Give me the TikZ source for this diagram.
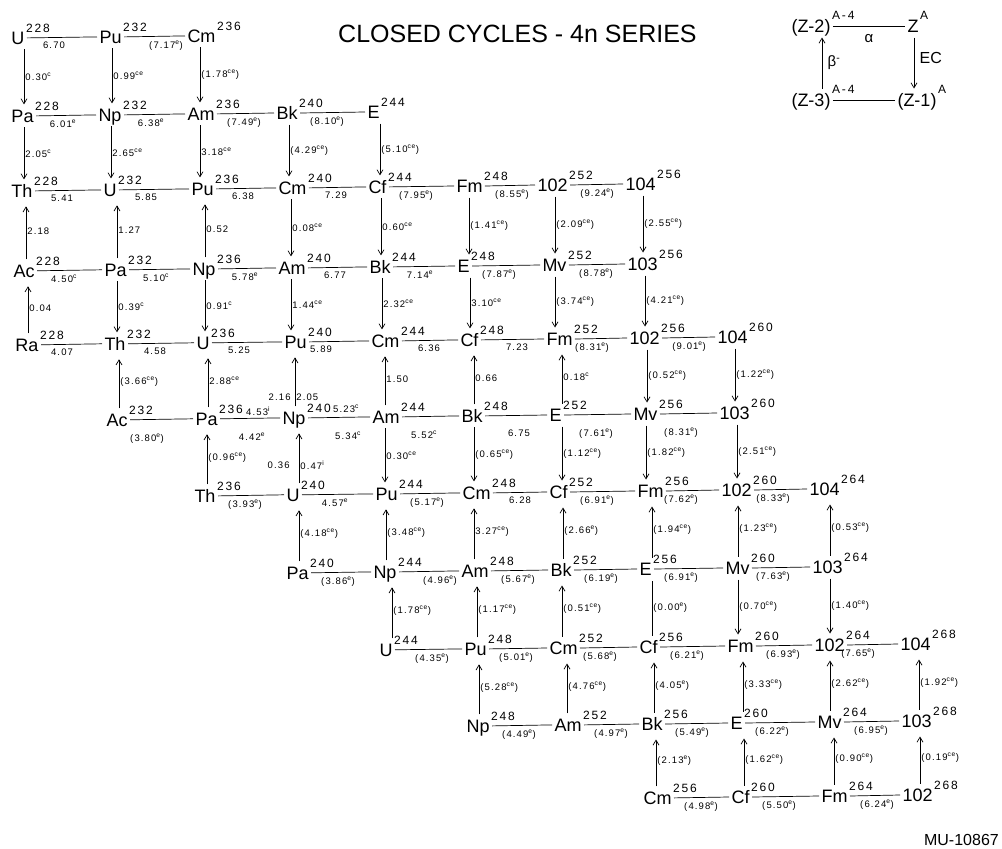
\documentclass[tikz,border=0pt]{standalone}
\usepackage{fontspec}
\setmainfont{Liberation Sans}
\newfontfamily\elfont{Liberation Sans}
\newfontfamily\supfont[LetterSpace=15]{Liberation Sans}
\newfontfamily\labfont[LetterSpace=12]{Liberation Sans}
\usetikzlibrary{arrows.meta}
\newcommand\sE{\textsuperscript{e}}
\newcommand\sC{\textsuperscript{c}}
\newcommand\sCE{\textsuperscript{ce}}
\newcommand\sI{\textsuperscript{i}}
\tikzset{
  el/.style={anchor=west, xshift=-3pt, inner sep=0pt, outer xsep=2.5pt, outer ysep=5pt,
    text height=13pt, text depth=0pt, font=\elfont\fontsize{18}{18}\selectfont},
  ms/.style={anchor=base west, inner sep=0pt, text depth=0pt, font=\supfont\fontsize{12}{12}\selectfont},
  lab/.style={inner sep=1pt, font=\labfont\fontsize{9.5}{10}\selectfont},
  ln/.style={line width=0.7pt},
  arr/.style={line width=0.7pt, -{Straight Barb[length=5pt,width=6pt]}},
}
\newcommand\Nuc[4]{%
  \node[el] (#1) at (#2) {#3};
  \node[ms] (#1s) at ([xshift=-1pt,yshift=12pt]#1.base east) {#4};}
\newcommand\HL[4][]{%
  \draw[ln] (#2.east) -- (#3.west);
  \node[lab, anchor=north, #1] (#2#3) at ([xshift=16pt,yshift=-8pt]#2s.south) {#4};}
\newcommand\VD[4][15pt]{%
  \path ([xshift=#1]#2.south west) coordinate (#2#3c);
  \draw[arr] (#2#3c) -- (#2#3c |- #3.north) node[lab, midway, right] (#2#3l) {#4};}
\newcommand\VU[4][15pt]{%
  \path ([xshift=#1]#2.north west) coordinate (#2#3c);
  \draw[arr, shorten >=4pt] (#2#3c) -- (#2#3c |- #3.south) node[lab, midway, right] (#2#3l) {#4};}
\begin{document}
\begin{tikzpicture}[x=1pt,y=-1pt]
\useasboundingbox (0,0) rectangle (1002,849);
% title and id
\node[anchor=base west, inner sep=0pt, font=\fontsize{25}{25}\selectfont] (title) at (338,42) {CLOSED CYCLES - 4n SERIES};
\node[anchor=base east, inner sep=0pt, font=\fontsize{16}{16}\selectfont] (mu) at (999,845) {MU-10867};
% nuclides
\Nuc{U228}{12,37.9}{U}{228}
\Nuc{Pu232}{100,36.9}{Pu}{232}
\Nuc{Cm236}{188,35.9}{Cm}{236}
\Nuc{Pa228}{12,115.9}{Pa}{228}
\Nuc{Np232}{99,114.9}{Np}{232}
\Nuc{Am236}{188,113.9}{Am}{236}
\Nuc{Bk240}{277,113}{Bk}{240}
\Nuc{Es244}{368,112}{E}{244}
\Nuc{Th228}{12,190.9}{Th}{228}
\Nuc{U232}{104,189.9}{U}{232}
\Nuc{Pu236}{192,188.9}{Pu}{236}
\Nuc{Cm240}{279,187.9}{Cm}{240}
\Nuc{Cf244}{369,186.9}{Cf}{244}
\Nuc{Fm248}{457,186}{Fm}{248}
\Nuc{No252}{538,185}{102}{252}
\Nuc{Rf256}{626,184}{104}{256}
\Nuc{Ac228}{14,270.8}{Ac}{228}
\Nuc{Pa232}{105,269.8}{Pa}{232}
\Nuc{Np236}{193,268.9}{Np}{236}
\Nuc{Am240}{279,267.9}{Am}{240}
\Nuc{Bk244}{370,266.9}{Bk}{244}
\Nuc{Es248}{458,266}{E}{248}
\Nuc{Md252}{543,265}{Mv}{252}
\Nuc{Lr256}{628,264}{103}{256}
\Nuc{Ra228}{16,344.8}{Ra}{228}
\Nuc{Th232}{105,343.8}{Th}{232}
\Nuc{U236}{197,342.8}{U}{236}
\Nuc{Pu240}{285,341.9}{Pu}{240}
\Nuc{Cm244}{372,340.9}{Cm}{244}
\Nuc{Cf248}{461,339.9}{Cf}{248}
\Nuc{Fm252}{547,339}{Fm}{252}
\Nuc{No256}{630,338}{102}{256}
\Nuc{Rf260}{718,337}{104}{260}
\Nuc{Ac232}{107,419.8}{Ac}{232}
\Nuc{Pa236}{196,418.8}{Pa}{236}
\Nuc{Np240}{283,417.9}{Np}{240}
\Nuc{Am244}{373,416.9}{Am}{244}
\Nuc{Bk248}{462,415.9}{Bk}{248}
\Nuc{Es252}{550,415}{E}{252}
\Nuc{Md256}{634,414}{Mv}{256}
\Nuc{Lr260}{720,413}{103}{260}
\Nuc{Th236}{195,495.9}{Th}{236}
\Nuc{U240}{287,494.8}{U}{240}
\Nuc{Pu244}{376,493.9}{Pu}{244}
\Nuc{Cm248}{463,492.9}{Cm}{248}
\Nuc{Cf252}{550,492}{Cf}{252}
\Nuc{Fm256}{638,491}{Fm}{256}
\Nuc{No260}{722,490}{102}{260}
\Nuc{Rf264}{810,489}{104}{264}
\Nuc{Pa240}{287,572.8}{Pa}{240}
\Nuc{Np244}{374,571.9}{Np}{244}
\Nuc{Am248}{462,570.9}{Am}{248}
\Nuc{Bk252}{551,570}{Bk}{252}
\Nuc{Es256}{640,569}{E}{256}
\Nuc{Md260}{726,568}{Mv}{260}
\Nuc{Lr264}{813,567}{103}{264}
\Nuc{U244}{380,649.8}{U}{244}
\Nuc{Pu248}{465,648.9}{Pu}{248}
\Nuc{Cm252}{550,648}{Cm}{252}
\Nuc{Cf256}{640,647}{Cf}{256}
\Nuc{Fm260}{728,646}{Fm}{260}
\Nuc{No264}{815,645}{102}{264}
\Nuc{Rf268}{901,644}{104}{268}
\Nuc{Np248}{467,725.9}{Np}{248}
\Nuc{Am252}{555,724.9}{Am}{252}
\Nuc{Bk256}{642,724}{Bk}{256}
\Nuc{Es260}{731,723}{E}{260}
\Nuc{Md264}{818,722}{Mv}{264}
\Nuc{Lr268}{902,721}{103}{268}
\Nuc{Cm256}{644,797.9}{Cm}{256}
\Nuc{Cf260}{732,797}{Cf}{260}
\Nuc{Fm264}{822,796}{Fm}{264}
\Nuc{No268}{903,795}{102}{268}
% alpha lines
\HL{U228}{Pu232}{6.70}
\HL[xshift=15pt]{Pu232}{Cm236}{(7.17\sE)}
\HL{Pa228}{Np232}{6.01\sE}
\HL{Np232}{Am236}{6.38\sE}
\HL{Am236}{Bk240}{(7.49\sE)}
\HL{Bk240}{Es244}{(8.10\sE)}
\HL{Th228}{U232}{5.41}
\HL{U232}{Pu236}{5.85}
\HL{Pu236}{Cm240}{6.38}
\HL{Cm240}{Cf244}{7.29}
\HL{Cf244}{Fm248}{(7.95\sE)}
\HL{Fm248}{No252}{(8.55\sE)}
\HL{No252}{Rf256}{(9.24\sE)}
\HL{Ac228}{Pa232}{4.50\sC}
\HL{Pa232}{Np236}{5.10\sC}
\HL{Np236}{Am240}{5.78\sE}
\HL{Am240}{Bk244}{6.77}
\HL{Bk244}{Es248}{7.14\sE}
\HL{Es248}{Md252}{(7.87\sE)}
\HL{Md252}{Lr256}{(8.78\sE)}
\HL[xshift=-6pt]{Ra228}{Th232}{4.07}
\HL{Th232}{U236}{4.58}
\HL{U236}{Pu240}{5.25}
\HL[xshift=-15pt]{Pu240}{Cm244}{5.89}
\HL{Cm244}{Cf248}{6.36}
\HL[xshift=9pt]{Cf248}{Fm252}{7.23}
\HL[xshift=-10pt]{Fm252}{No256}{(8.31\sE)}
\HL{No256}{Rf260}{(9.01\sE)}
\HL[xshift=-10pt,yshift=-10pt]{Ac232}{Pa236}{(3.80\sE)}
\HL[xshift=5pt,yshift=-10pt]{Pa236}{Np240}{4.42\sE}
\HL[xshift=13pt,yshift=-10pt]{Np240}{Am244}{5.34\sC}
\HL[xshift=-5pt,yshift=-10pt]{Am244}{Bk248}{5.52\sC}
\HL[xshift=7pt,yshift=-10pt]{Bk248}{Es252}{6.75}
\HL[xshift=5pt,yshift=-10pt]{Es252}{Md256}{(7.61\sE)}
\HL[xshift=-6pt,yshift=-10pt]{Md256}{Lr260}{(8.31\sE)}
\node[lab, anchor=base west] (l453) at ([xshift=2pt,yshift=-2pt]Pa236s.base east) {4.53\sI};
\node[lab, anchor=base west] (l523) at ([xshift=1pt]Np240s.base east) {5.23\sC};
\HL{Th236}{U240}{(3.93\sE)}
\HL[xshift=6pt]{U240}{Pu244}{4.57\sE}
\HL{Pu244}{Cm248}{(5.17\sE)}
\HL{Cm248}{Cf252}{6.28}
\HL{Cf252}{Fm256}{(6.91\sE)}
\HL[xshift=-12pt]{Fm256}{No260}{(7.62\sE)}
\HL[xshift=-8pt]{No260}{Rf264}{(8.33\sE)}
\HL{Pa240}{Np244}{(3.86\sE)}
\HL[xshift=14pt]{Np244}{Am248}{(4.96\sE)}
\HL{Am248}{Bk252}{(5.67\sE)}
\HL{Bk252}{Es256}{(6.19\sE)}
\HL{Es256}{Md260}{(6.91\sE)}
\HL[xshift=-6pt]{Md260}{Lr264}{(7.63\sE)}
\HL[xshift=10pt]{U244}{Pu248}{(4.35\sE)}
\HL{Pu248}{Cm252}{(5.01\sE)}
\HL[xshift=-7pt]{Cm252}{Cf256}{(5.68\sE)}
\HL{Cf256}{Fm260}{(6.21\sE)}
\HL{Fm260}{No264}{(6.93\sE)}
\HL[xshift=-16pt]{No264}{Rf268}{(7.65\sE)}
\HL{Np248}{Am252}{(4.49\sE)}
\HL{Am252}{Bk256}{(4.97\sE)}
\HL{Bk256}{Es260}{(5.49\sE)}
\HL{Es260}{Md264}{(6.22\sE)}
\HL{Md264}{Lr268}{(6.95\sE)}
\HL{Cm256}{Cf260}{(4.98\sE)}
\HL{Cf260}{Fm264}{(5.50\sE)}
\HL{Fm264}{No268}{(6.24\sE)}
% EC and beta arrows
\VD{U228}{Pa228}{0.30\sC}
\VD{Pu232}{Np232}{0.99\sCE}
\VD{Cm236}{Am236}{(1.78\sCE)}
\VD{Pa228}{Th228}{2.05\sC}
\VD{Np232}{U232}{2.65\sCE}
\VD{Am236}{Pu236}{3.18\sCE}
\VD{Bk240}{Cm240}{(4.29\sCE)}
\VD{Es244}{Cf244}{(5.10\sCE)}
\VU{Ac228}{Th228}{2.18}
\VU{Pa232}{U232}{1.27}
\VU{Np236}{Pu236}{0.52}
\VD{Cm240}{Am240}{0.08\sCE}
\VD{Cf244}{Bk244}{0.60\sCE}
\VD{Fm248}{Es248}{(1.41\sCE)}
\VD[20pt]{No252}{Md252}{(2.09\sCE)}
\VD[20pt]{Rf256}{Lr256}{(2.55\sCE)}
\VU{Ra228}{Ac228}{0.04}
\VD{Pa232}{Th232}{0.39\sC}
\VD{Np236}{U236}{0.91\sC}
\VD{Am240}{Pu240}{1.44\sCE}
\VD{Bk244}{Cm244}{2.32\sCE}
\VD{Es248}{Cf248}{3.10\sCE}
\VD{Md252}{Fm252}{(3.74\sCE)}
\VD[20pt]{Lr256}{No256}{(4.21\sCE)}
\VU{Ac232}{Th232}{(3.66\sCE)}
\VU{Pa236}{U236}{2.88\sCE}
\path ([xshift=15pt]Np240.north west) coordinate (NpPuc);
\draw[arr, shorten >=4pt] (NpPuc) -- (NpPuc |- Pu240.south)
  node[lab, pos=0.17, left, xshift=-3pt] (l216) {2.16}
  node[lab, pos=0.17, right] (l205) {2.05};
\VU{Am244}{Cm244}{1.50}
\VU{Bk248}{Cf248}{0.66}
\VU{Es252}{Fm252}{0.18\sC}
\VD[20pt]{No256}{Md256}{(0.52\sCE)}
\VD[20pt]{Rf260}{Lr260}{(1.22\sCE)}
\VU{Th236}{Pa236}{(0.96\sCE)}
\path ([xshift=15pt]U240.north west) coordinate (UNpc);
\draw[arr, shorten >=4pt] (UNpc) -- (UNpc |- Np240.south)
  node[lab, pos=0.33, right] (l047) {0.47\sI}
  node[lab, pos=0.33, left, xshift=-8pt] (l036) {0.36};
\VD{Am244}{Pu244}{0.30\sCE}
\VD{Bk248}{Cm248}{(0.65\sCE)}
\VD{Es252}{Cf252}{(1.12\sCE)}
\VD{Md256}{Fm256}{(1.82\sCE)}
\VD[20pt]{Lr260}{No260}{(2.51\sCE)}
\VU{Pa240}{U240}{(4.18\sCE)}
\VU{Np244}{Pu244}{(3.48\sCE)}
\VU{Am248}{Cm248}{3.27\sCE)}
\VU{Bk252}{Cf252}{(2.66\sE)}
\VU{Es256}{Fm256}{(1.94\sCE)}
\VU{Md260}{No260}{(1.23\sCE)}
\VU[20pt]{Lr264}{Rf264}{(0.53\sCE)}
\VU{U244}{Np244}{(1.78\sCE)}
\VU{Pu248}{Am248}{(1.17\sCE)}
\VU{Cm252}{Bk252}{(0.51\sCE)}
\path ([xshift=15pt]Cf256.north west) coordinate (CfEsc);
\draw[ln] (CfEsc) -- (CfEsc |- Es256.south) node[lab, midway, right] (l000) {(0.00\sE)};
\VD{Md260}{Fm260}{(0.70\sCE)}
\VD[20pt]{Lr264}{No264}{(1.40\sCE)}
\VU{Np248}{Pu248}{(5.28\sCE)}
\VU{Am252}{Cm252}{(4.76\sCE)}
\VU{Bk256}{Cf256}{(4.05\sE)}
\VU{Es260}{Fm260}{(3.33\sCE)}
\VU{Md264}{No264}{(2.62\sCE)}
\VU[20pt]{Lr268}{Rf268}{(1.92\sCE)}
\VU{Cm256}{Bk256}{(2.13\sE)}
\VU{Cf260}{Es260}{(1.62\sCE)}
\VU{Fm264}{Md264}{(0.90\sCE)}
\VU[20pt]{No268}{Lr268}{(0.19\sCE)}
% legend
\node[el] (LZ2) at (792,26) {(Z-2)};
\node[ms] (LZ2s) at ([xshift=-1pt,yshift=13pt]LZ2.base east) {A-4};
\node[el] (LZ) at (908,26) {Z};
\node[ms] (LZs) at ([xshift=-1pt,yshift=13pt]LZ.base east) {A};
\node[el] (LZ3) at (792,100) {(Z-3)};
\node[ms] (LZ3s) at ([xshift=-1pt,yshift=13pt]LZ3.base east) {A-4};
\node[el] (LZ1) at (898,100) {(Z-1)};
\node[ms] (LZ1s) at ([xshift=-1pt,yshift=13pt]LZ1.base east) {A};
\draw[ln] (LZ2.east) -- (LZ.west)
  node[pos=0.5, anchor=north, yshift=-8pt, inner sep=0pt, font=\elfont\fontsize{15}{15}\selectfont] (lalpha) {α};
\draw[ln] (LZ3.east) -- (LZ1.west);
\path ([xshift=9pt]LZ.south west) coordinate (LZc);
\draw[arr] (LZc) -- (LZc |- LZ1.north)
  node[pos=0.4, right, xshift=2pt, font=\elfont\fontsize{16}{16}\selectfont] (lEC) {EC};
\path ([xshift=33pt]LZ3.north west) coordinate (LZ3c);
\draw[arr] (LZ3c) -- (LZ3c |- LZ2.south)
  node[midway, right, xshift=2pt, font=\elfont\fontsize{15}{15}\selectfont] (lbeta) {β\textsuperscript{-}};
\end{tikzpicture}
\end{document}
